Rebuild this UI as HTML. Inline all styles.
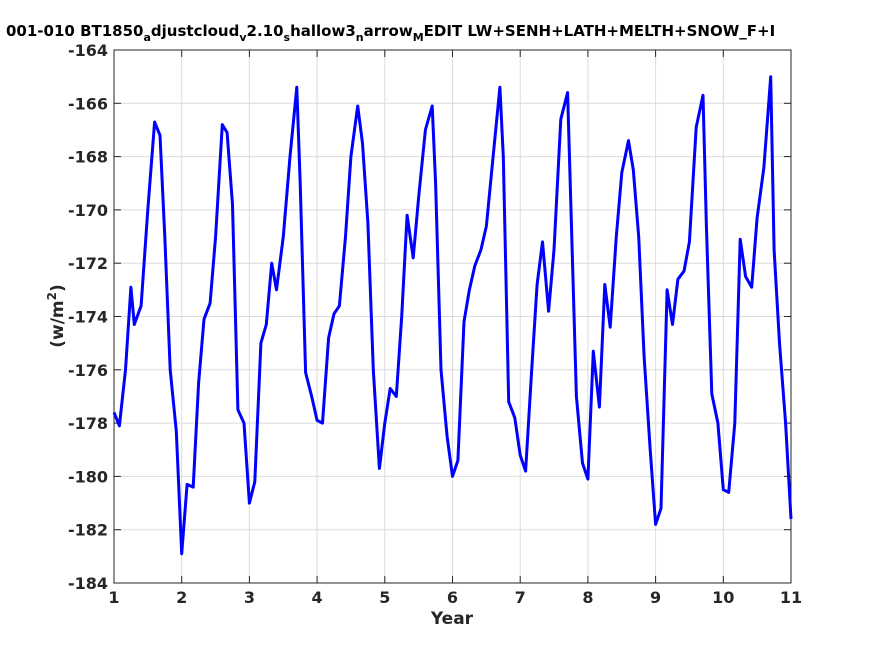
<!DOCTYPE html>
<html><head><meta charset="utf-8"><style>
html,body{margin:0;padding:0;background:#fff;}
svg{display:block;font-family:"DejaVu Sans","Liberation Sans",sans-serif;}
</style></head><body>
<svg id="chart" width="875" height="656" viewBox="0 0 875 656" xmlns="http://www.w3.org/2000/svg">
<rect width="875" height="656" fill="#fff"/>
<text x="6" y="36" font-size="15" font-weight="bold" fill="#000">001-010 BT1850<tspan font-size="11" dy="5">a</tspan><tspan dy="-5">djustcloud</tspan><tspan font-size="11" dy="5">v</tspan><tspan dy="-5">2.10</tspan><tspan font-size="11" dy="5">s</tspan><tspan dy="-5">hallow3</tspan><tspan font-size="11" dy="5">n</tspan><tspan dy="-5">arrow</tspan><tspan font-size="11" dy="5">M</tspan><tspan dy="-5">EDIT LW+SENH+LATH+MELTH+SNOW_F+I</tspan></text>
<g id="grid"></g>
<g id="axes"></g>
<path id="series" fill="none" stroke="#0000ff" stroke-width="3" stroke-linejoin="round"/>
<text x="452" y="624" font-size="17" font-weight="bold" text-anchor="middle" fill="#262626">Year</text>
<text transform="translate(63,316) rotate(-90)" font-size="17" font-weight="bold" text-anchor="middle" fill="#262626">(w/m<tspan font-size="12" dy="-7">2</tspan><tspan dy="7">)</tspan></text>
</svg>
<script>
const years=[1,1.08,1.17,1.25,1.3,1.4,1.5,1.6,1.68,1.75,1.83,1.92,2,2.08,2.17,2.25,2.33,2.42,2.5,2.6,2.67,2.75,2.83,2.92,3,3.08,3.17,3.25,3.33,3.4,3.5,3.6,3.7,3.75,3.83,3.92,4,4.08,4.17,4.25,4.33,4.42,4.5,4.6,4.67,4.75,4.83,4.92,5,5.08,5.17,5.25,5.33,5.42,5.5,5.6,5.7,5.75,5.83,5.92,6,6.08,6.17,6.25,6.33,6.42,6.5,6.6,6.7,6.75,6.83,6.92,7,7.08,7.17,7.25,7.33,7.42,7.5,7.6,7.7,7.75,7.83,7.92,8,8.08,8.17,8.25,8.33,8.42,8.5,8.6,8.67,8.75,8.83,8.92,9,9.08,9.17,9.25,9.33,9.42,9.5,9.6,9.7,9.75,9.83,9.92,10,10.08,10.17,10.25,10.33,10.42,10.5,10.6,10.7,10.75,10.83,10.92,11];
const values=[-177.6,-178.1,-176,-172.9,-174.3,-173.6,-170,-166.7,-167.2,-171,-176,-178.3,-182.9,-180.3,-180.4,-176.5,-174.1,-173.5,-171,-166.8,-167.1,-169.8,-177.5,-178,-181,-180.2,-175,-174.3,-172,-173,-171,-168,-165.4,-169,-176.1,-177,-177.9,-178,-174.8,-173.9,-173.6,-171,-168,-166.1,-167.5,-170.5,-176,-179.7,-178,-176.7,-177,-174,-170.2,-171.8,-169.5,-167,-166.1,-169,-176,-178.5,-180,-179.4,-174.2,-173,-172.1,-171.5,-170.6,-168,-165.4,-168,-177.2,-177.8,-179.2,-179.8,-176,-172.8,-171.2,-173.8,-171.5,-166.6,-165.6,-170,-177,-179.5,-180.1,-175.3,-177.4,-172.8,-174.4,-171,-168.6,-167.4,-168.5,-171,-175.5,-179,-181.8,-181.2,-173,-174.3,-172.6,-172.3,-171.2,-166.9,-165.7,-170.6,-176.9,-178,-180.5,-180.6,-178,-171.1,-172.5,-172.9,-170.3,-168.4,-165,-171.5,-175,-178,-181.6];
const xTicks=[1,2,3,4,5,6,7,8,9,10,11];
const yTicks=[-184,-182,-180,-178,-176,-174,-172,-170,-168,-166,-164];
const X0=114,X1=791,Y0=583,Y1=50,xmin=1,xmax=11,ymin=-184,ymax=-164;
const sx=v=>X0+(v-xmin)/(xmax-xmin)*(X1-X0);
const sy=v=>Y0-(v-ymin)/(ymax-ymin)*(Y0-Y1);
const NS="http://www.w3.org/2000/svg";
const grid=document.getElementById('grid'),axes=document.getElementById('axes');
function mk(tag,attrs,parent){const e=document.createElementNS(NS,tag);for(const k in attrs)e.setAttribute(k,attrs[k]);parent.appendChild(e);return e;}
xTicks.forEach(t=>{
 const g=mk('line',{x1:sx(t),x2:sx(t),y1:Y1,y2:Y0,stroke:'#dcdcdc','stroke-width':1},grid);
 
 
 const tk=mk('line',{x1:sx(t),x2:sx(t),y1:Y0,y2:Y0-7,stroke:'#262626'},axes);
 
 
 const tk2=mk('line',{x1:sx(t),x2:sx(t),y1:Y1,y2:Y1+7,stroke:'#262626'},axes);
 
 
 const l=mk('text',{x:sx(t),y:Y0+20,'font-size':16,'font-weight':'bold','text-anchor':'middle',fill:'#262626'},axes);
 l.textContent=t;
 
 
});
yTicks.forEach(t=>{
 const g=mk('line',{x1:X0,x2:X1,y1:sy(t),y2:sy(t),stroke:'#dcdcdc','stroke-width':1},grid);
 
 
 const tk=mk('line',{x1:X0,x2:X0+7,y1:sy(t),y2:sy(t),stroke:'#262626'},axes);
 
 
 const tk2=mk('line',{x1:X1,x2:X1-7,y1:sy(t),y2:sy(t),stroke:'#262626'},axes);
 
 
 const l=mk('text',{x:X0-6,y:sy(t)+6,'font-size':16,'font-weight':'bold','text-anchor':'end',fill:'#262626'},axes);
 l.textContent=t;
 
 
});
const box=mk('rect',{x:X0,y:Y1,width:X1-X0,height:Y0-Y1,fill:'none',stroke:'#262626','stroke-width':1},axes);


document.getElementById('series').setAttribute('d',years.map((y,i)=>(i?'L':'M')+sx(y).toFixed(1)+','+sy(values[i]).toFixed(1)).join(''));
</script>
</body></html>
